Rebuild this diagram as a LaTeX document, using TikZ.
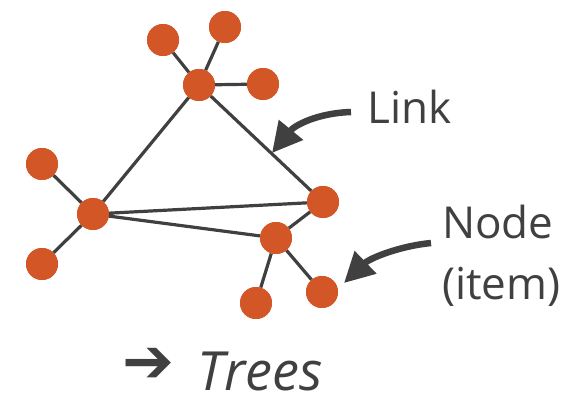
\documentclass[tikz,border=0pt]{standalone}
\usepackage{fontspec}
\setmainfont{Open Sans}
\newfontfamily\symfont{DejaVu Sans}
\usetikzlibrary{arrows.meta}
\definecolor{dot}{HTML}{D35627}
\definecolor{ink}{HTML}{404040}
\begin{document}
\begin{tikzpicture}[x=1pt,y=-1pt,
  vert/.style={circle,fill=dot,minimum size=32pt,inner sep=0pt},
  edge/.style={draw=ink,line width=3.2pt},
  pointer/.style={draw=ink,line width=6.5pt,-{Triangle[length=30pt,width=30pt]}},
  lbl/.style={text=ink,font=\fontsize{44}{60}\selectfont,inner sep=0pt}]
\useasboundingbox (0,0) rectangle (569,408);
% nodes
\node[vert] (a) at (199,85) {};
\node[vert] (a1) at (163,40) {};
\node[vert] (a2) at (225,27) {};
\node[vert] (a3) at (263,84) {};
\node[vert] (b) at (93,214) {};
\node[vert] (b1) at (42,164) {};
\node[vert] (b2) at (42,264) {};
\node[vert] (c) at (323,202) {};
\node[vert] (d) at (276,238) {};
\node[vert] (d1) at (256,303) {};
\node[vert] (d2) at (322,292) {};
% edges
\path[edge] (a) -- (a1) (a) -- (a2) (a) -- (a3)
  (a) -- (b) (a) -- (c) (b) -- (c) (b) -- (d) (d) -- (c)
  (b) -- (b1) (b) -- (b2) (d) -- (d1) (d) -- (d2);
% redraw nodes on top
\foreach \n/\p in {a/{199,85},a1/{163,40},a2/{225,27},a3/{263,84},b/{93,214},b1/{42,164},b2/{42,264},c/{323,202},d/{276,238},d1/{256,303},d2/{322,292}}
  \fill[dot] (\p) circle (16pt);
% labels
\node[lbl,anchor=base west] (link) at (367,123) {Link};
\node[lbl,anchor=base west] (node) at (442,238) {Node};
\node[lbl,anchor=base west] (item) at (442,299) {(item)};
\coordinate (linkstart) at (351,112);
\coordinate (linktip) at (272,153);
\coordinate (nodestart) at (431,243);
\coordinate (nodetip) at (344,283);
\draw[pointer] (linkstart) .. controls (318,113) and (295,125) .. (linktip);
\draw[pointer] (nodestart) .. controls (400,246) and (370,258) .. (nodetip);
% title
\node[text=ink,font=\symfont\fontsize{62}{70}\selectfont,inner sep=0pt,anchor=west] (arr) at (122,382) {\smash{➔}};
\node[lbl,anchor=base west,font=\fontsize{54}{60}\selectfont\itshape] (trees) at (197,390) {Trees};
\end{tikzpicture}
\end{document}
